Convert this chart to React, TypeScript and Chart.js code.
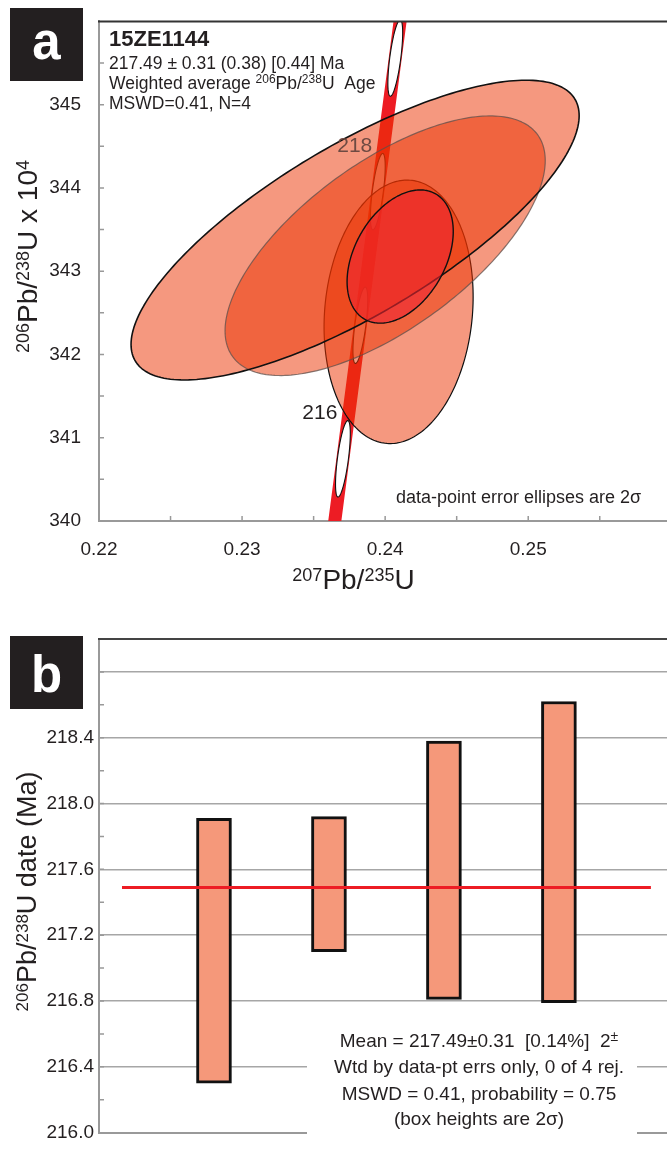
import React, { useEffect, useRef } from 'react';
import { Chart, registerables } from 'chart.js';

Chart.register(...registerables);

const FONT = '"Liberation Sans", Arial, Helvetica, sans-serif';
const INK = '#231F20';

// ---------------- Panel a : concordia diagram ----------------
const sampleName = '15ZE1144';
const summaryAge = '217.49 ± 0.31 (0.38) [0.44] Ma';
const summaryStats = 'MSWD=0.41, N=4';
const ellipseNote = 'data-point error ellipses are 2σ';

// per-analysis 2σ error ellipses (207Pb/235U, 206Pb/238U x 10^4, error correlation)
const pb207U235 = [0.2379, 0.24, 0.24094, 0.24105];
const pb207U235Err2s = [0.01566, 0.01119, 0.00521, 0.00371];
const pb206U238 = [343.494, 343.306, 342.512, 343.176];
const pb206U238Err2s = [1.8, 1.559, 1.582, 0.8];
const errCorr = [0.763, 0.656, 0.114, 0.377];

// concordia (decay constants per Ma)
const lambda238 = 1.55125e-4;
const lambda235 = 9.8485e-4;
const concordiaAges = [215.3, 216, 217, 218, 219, 219.5];
const markerAges = [216, 217, 218, 219];
const markerLabels = ['216', '', '218', ''];

const xRange = [0.22, 0.2597];
const yRange = [340, 346];

// ---------------- Panel b : weighted mean ----------------
const analyses = [1, 2, 3, 4];
const dateLow = [216.3, 217.1, 216.81, 216.79];
const dateHigh = [217.91, 217.92, 218.38, 218.62];
const meanDate = 217.49;
const meanSpan = [0.2, 4.8];
const dateRange = [216, 219];
const statsLine1 = 'Mean = 217.49±0.31  [0.14%]  2';
const statsLine2 = 'Wtd by data-pt errs only, 0 of 4 rej.';
const statsLine3 = 'MSWD = 0.41, probability = 0.75';
const statsLine4 = '(box heights are 2σ)';

const conX = (t: number) => Math.expm1(lambda235 * t);
const conY = (t: number) => Math.expm1(lambda238 * t) * 1e4;

type Seg = { t: string; sup?: boolean };

function drawRich(
  ctx: CanvasRenderingContext2D,
  segs: Seg[],
  x: number,
  y: number,
  size: number,
  supSize: number,
  raise: number,
  align: 'left' | 'center',
  color = INK
) {
  const fMain = `${size}px ${FONT}`;
  const fSup = `${supSize}px ${FONT}`;
  let total = 0;
  const widths = segs.map((s) => {
    ctx.font = s.sup ? fSup : fMain;
    const w = ctx.measureText(s.t).width;
    total += w;
    return w;
  });
  let cx = align === 'center' ? x - total / 2 : x;
  ctx.fillStyle = color;
  ctx.textAlign = 'left';
  ctx.textBaseline = 'alphabetic';
  segs.forEach((s, i) => {
    ctx.font = s.sup ? fSup : fMain;
    ctx.fillText(s.t, cx, s.sup ? y - raise : y);
    cx += widths[i];
  });
}

function drawLetterBox(ctx: CanvasRenderingContext2D, letter: string, x: number, y: number, baseline: number) {
  ctx.fillStyle = '#231F20';
  ctx.fillRect(x, y, 73, 73);
  ctx.fillStyle = '#fff';
  ctx.font = `bold 51px ${FONT}`;
  ctx.textAlign = 'center';
  ctx.textBaseline = 'alphabetic';
  ctx.fillText(letter, x + 36.5, baseline);
}

const ellipseFill = 'rgba(235, 49, 0, 0.5)';
const innerEllipseFill = 'rgba(238, 36, 48, 0.6)';

const panelAPlugin = {
  id: 'panelA',
  afterDatasetsDraw(chart: any) {
    const { ctx, chartArea: ca } = chart;
    const xs = chart.scales.x;
    const ys = chart.scales.y;
    const P = (t: number) => [xs.getPixelForValue(conX(t)), ys.getPixelForValue(conY(t))];
    ctx.save();
    ctx.beginPath();
    ctx.rect(ca.left, ca.top, ca.right - ca.left, ca.bottom - ca.top);
    ctx.clip();

    // concordia age markers
    markerAges.forEach((t) => {
      const [cx, cy] = P(t);
      const [x1, y1] = P(t - 0.05);
      const [x2, y2] = P(t + 0.05);
      const L = Math.hypot(x2 - x1, y2 - y1);
      const ux = (x2 - x1) / L;
      const uy = (y2 - y1) / L;
      const A = 38.5;
      const B = 5.5;
      ctx.beginPath();
      for (let k = 0; k <= 120; k++) {
        const a = (k / 120) * Math.PI * 2;
        const c = Math.cos(a);
        const s = Math.sin(a);
        const px = cx + A * c * ux - B * s * uy;
        const py = cy + A * c * uy + B * s * ux;
        if (k === 0) ctx.moveTo(px, py);
        else ctx.lineTo(px, py);
      }
      ctx.closePath();
      ctx.fillStyle = '#fff';
      ctx.fill();
      ctx.strokeStyle = '#111';
      ctx.lineWidth = 1.1;
      ctx.stroke();
    });

    const path = (i: number) => {
      const r = errCorr[i];
      const q = Math.sqrt(1 - r * r);
      ctx.beginPath();
      for (let k = 0; k <= 240; k++) {
        const a = (k / 240) * Math.PI * 2;
        const vx = pb207U235[i] + pb207U235Err2s[i] * Math.cos(a);
        const vy = pb206U238[i] + pb206U238Err2s[i] * (r * Math.cos(a) + q * Math.sin(a));
        const px = xs.getPixelForValue(vx);
        const py = ys.getPixelForValue(vy);
        if (k === 0) ctx.moveTo(px, py);
        else ctx.lineTo(px, py);
      }
      ctx.closePath();
    };
    ctx.lineJoin = 'round';
    path(2);
    ctx.fillStyle = ellipseFill;
    ctx.fill();
    ctx.strokeStyle = '#111';
    ctx.lineWidth = 1.2;
    ctx.stroke();
    path(0);
    ctx.fillStyle = ellipseFill;
    ctx.fill();
    path(1);
    ctx.fillStyle = ellipseFill;
    ctx.fill();
    ctx.strokeStyle = 'rgba(95,80,75,0.75)';
    ctx.lineWidth = 1.2;
    ctx.stroke();
    path(0);
    ctx.strokeStyle = '#111';
    ctx.lineWidth = 1.6;
    ctx.stroke();
    path(3);
    ctx.fillStyle = innerEllipseFill;
    ctx.fill();
    ctx.strokeStyle = '#111';
    ctx.lineWidth = 1.4;
    ctx.stroke();
    ctx.restore();

    // marker labels
    ctx.save();
    ctx.font = `21px ${FONT}`;
    ctx.textAlign = 'right';
    ctx.textBaseline = 'alphabetic';
    markerAges.forEach((t, i) => {
      if (!markerLabels[i]) return;
      const [cx, cy] = P(t);
      ctx.fillStyle = i === 0 ? INK : '#6e4a42';
      ctx.fillText(markerLabels[i], cx - 5.5, cy - 39.5);
    });
    ctx.restore();
  },
  afterDraw(chart: any) {
    const { ctx, chartArea: ca } = chart;
    const xs = chart.scales.x;
    const ys = chart.scales.y;
    ctx.save();
    // top frame
    ctx.strokeStyle = '#333';
    ctx.lineWidth = 2;
    ctx.beginPath();
    ctx.moveTo(ca.left - 1, ca.top);
    ctx.lineTo(ca.right, ca.top);
    ctx.stroke();
    // inner ticks
    ctx.strokeStyle = '#999';
    ctx.lineWidth = 1.5;
    ctx.beginPath();
    for (let k = 1; xRange[0] + k * 0.005 < xs.max; k++) {
      const px = xs.getPixelForValue(xRange[0] + k * 0.005);
      ctx.moveTo(px, ca.bottom);
      ctx.lineTo(px, ca.bottom - 5);
    }
    for (let k = 1; yRange[0] + k * 0.5 < ys.max; k++) {
      const py = ys.getPixelForValue(yRange[0] + k * 0.5);
      ctx.moveTo(ca.left, py);
      ctx.lineTo(ca.left + 5, py);
    }
    ctx.stroke();

    // text block
    ctx.fillStyle = INK;
    ctx.textAlign = 'left';
    ctx.textBaseline = 'alphabetic';
    ctx.font = `bold 22px ${FONT}`;
    ctx.fillText(sampleName, 109, 46);
    ctx.font = `17.5px ${FONT}`;
    ctx.fillText(summaryAge, 109, 69);
    drawRich(
      ctx,
      [{ t: 'Weighted average ' }, { t: '206', sup: true }, { t: 'Pb/' }, { t: '238', sup: true }, { t: 'U  Age' }],
      109,
      89,
      17.5,
      12,
      6,
      'left'
    );
    ctx.font = `17.5px ${FONT}`;
    ctx.fillStyle = INK;
    ctx.fillText(summaryStats, 109, 109);
    ctx.font = `18px ${FONT}`;
    ctx.fillText(ellipseNote, 396, 503);

    // axis titles
    drawRich(
      ctx,
      [{ t: '207', sup: true }, { t: 'Pb/' }, { t: '235', sup: true }, { t: 'U' }],
      353.5,
      589,
      28,
      18,
      8,
      'center'
    );
    ctx.save();
    ctx.translate(37, 256.5);
    ctx.rotate(-Math.PI / 2);
    drawRich(
      ctx,
      [{ t: '206', sup: true }, { t: 'Pb/' }, { t: '238', sup: true }, { t: 'U x 10' }, { t: '4', sup: true }],
      0,
      0,
      28,
      18,
      8,
      'center'
    );
    ctx.restore();

    drawLetterBox(ctx, 'a', 10, 8, 58.5);
    ctx.restore();
  },
};

const panelBPlugin = {
  id: 'panelB',
  afterDraw(chart: any) {
    const { ctx, chartArea: ca } = chart;
    const ys = chart.scales.y;
    ctx.save();
    ctx.strokeStyle = '#444';
    ctx.lineWidth = 2;
    ctx.beginPath();
    ctx.moveTo(ca.left - 1, ca.top);
    ctx.lineTo(ca.right, ca.top);
    ctx.stroke();

    ctx.strokeStyle = '#999';
    ctx.lineWidth = 1.5;
    ctx.beginPath();
    for (let k = 1; dateRange[0] + k * 0.2 < ys.max - 1e-6; k++) {
      const py = ys.getPixelForValue(dateRange[0] + k * 0.2);
      ctx.moveTo(ca.left, py);
      ctx.lineTo(ca.left + 5, py);
    }
    ctx.stroke();

    // statistics box
    ctx.fillStyle = '#fff';
    ctx.fillRect(307, 420, 330, 115);
    drawRich(ctx, [{ t: statsLine1 }, { t: '±', sup: true }], 479, 446.5, 19, 14, 6, 'center');
    ctx.fillStyle = INK;
    ctx.font = `19px ${FONT}`;
    ctx.textAlign = 'center';
    ctx.fillText(statsLine2, 479, 473);
    ctx.fillText(statsLine3, 479, 499.5);
    ctx.fillText(statsLine4, 479, 525);

    ctx.save();
    ctx.translate(36, 291.5);
    ctx.rotate(-Math.PI / 2);
    drawRich(
      ctx,
      [{ t: '206', sup: true }, { t: 'Pb/' }, { t: '238', sup: true }, { t: 'U date (Ma)' }],
      0,
      0,
      27,
      17,
      8,
      'center'
    );
    ctx.restore();

    drawLetterBox(ctx, 'b', 10, 36, 92);
    ctx.restore();
  },
};

export default function App() {
  const aRef = useRef<HTMLCanvasElement | null>(null);
  const bRef = useRef<HTMLCanvasElement | null>(null);

  useEffect(() => {
    const tickFont = { family: FONT, size: 19 };
    const chartA = new Chart(aRef.current as HTMLCanvasElement, {
      type: 'scatter',
      data: {
        datasets: [
          {
            label: 'concordia',
            data: concordiaAges.map((t) => ({ x: conX(t), y: conY(t) })),
            showLine: true,
            borderColor: '#ED1C24',
            borderWidth: 13,
            pointRadius: 0,
            clip: 0,
          } as any,
        ],
      },
      options: {
        animation: false,
        responsive: false,
        devicePixelRatio: 1,
        events: [],
        layout: { padding: { top: 11, left: 0, right: 0, bottom: 0 }, autoPadding: false } as any,
        plugins: { legend: { display: false }, tooltip: { enabled: false } },
        scales: {
          x: {
            type: 'linear',
            min: xRange[0],
            max: xRange[1],
            offset: false,
            afterFit: (s: any) => {
              s.height = 79;
            },
            grid: { display: false },
            border: { display: true, color: '#999', width: 2 },
            ticks: {
              stepSize: 0.01,
              includeBounds: false,
              padding: 9,
              color: INK,
              font: tickFont,
              maxRotation: 0,
              autoSkip: false,
              callback: (v: any) => Number(v).toFixed(2),
            },
          } as any,
          y: {
            type: 'linear',
            min: yRange[0],
            max: yRange[1],
            afterFit: (s: any) => {
              s.width = 99;
            },
            grid: { display: false },
            border: { display: true, color: '#999', width: 2 },
            ticks: {
              stepSize: 1,
              padding: 10,
              color: INK,
              font: tickFont,
              callback: (v: any) => (Number(v) >= yRange[1] ? '' : String(v)),
            },
          } as any,
        },
      },
      plugins: [panelAPlugin as any],
    });

    const chartB = new Chart(bRef.current as HTMLCanvasElement, {
      type: 'bar',
      data: {
        datasets: [
          {
            type: 'line',
            label: 'weighted mean',
            data: meanSpan.map((x) => ({ x, y: meanDate })),
            borderColor: '#ED1C24',
            borderWidth: 3,
            pointRadius: 0,
            order: 0,
          } as any,
          {
            type: 'bar',
            label: '206Pb/238U dates',
            data: analyses.map((a, i) => ({ x: a, y: [dateLow[i], dateHigh[i]] })),
            backgroundColor: '#F5987A',
            borderColor: '#111',
            borderWidth: 3,
            borderSkipped: false,
            barThickness: 35,
            order: 1,
          } as any,
        ],
      },
      options: {
        animation: false,
        responsive: false,
        devicePixelRatio: 1,
        events: [],
        layout: { padding: { top: 39, left: 0, right: 0, bottom: 0 }, autoPadding: false } as any,
        plugins: { legend: { display: false }, tooltip: { enabled: false } },
        scales: {
          x: {
            type: 'linear',
            min: 0,
            max: 4.94,
            offset: false,
            afterFit: (s: any) => {
              s.height = 7.5;
            },
            grid: { display: false },
            border: { display: true, color: '#999', width: 2 },
            ticks: { display: false },
          } as any,
          y: {
            type: 'linear',
            min: dateRange[0],
            max: dateRange[1],
            afterFit: (s: any) => {
              s.width = 99;
            },
            grid: { color: '#a6a6a6', lineWidth: 1.5, drawTicks: false },
            border: { display: true, color: '#999', width: 2 },
            ticks: {
              stepSize: 0.4,
              includeBounds: false,
              padding: 5,
              color: INK,
              font: tickFont,
              callback: (v: any) => (Number(v) > 218.7 ? '' : Number(v).toFixed(1)),
            },
          } as any,
        },
      },
      plugins: [panelBPlugin as any],
    });

    return () => {
      chartA.destroy();
      chartB.destroy();
    };
  }, []);

  return (
    <div
      style={{
        position: 'absolute',
        left: 0,
        top: 0,
        width: 667,
        height: 1149,
        overflow: 'hidden',
        background: '#fff',
      }}
    >
      <canvas
        ref={aRef}
        width={667}
        height={600}
        style={{ position: 'absolute', left: 0, top: 0, width: 667, height: 600 }}
      />
      <canvas
        ref={bRef}
        width={667}
        height={549}
        style={{ position: 'absolute', left: 0, top: 600, width: 667, height: 549 }}
      />
    </div>
  );
}
